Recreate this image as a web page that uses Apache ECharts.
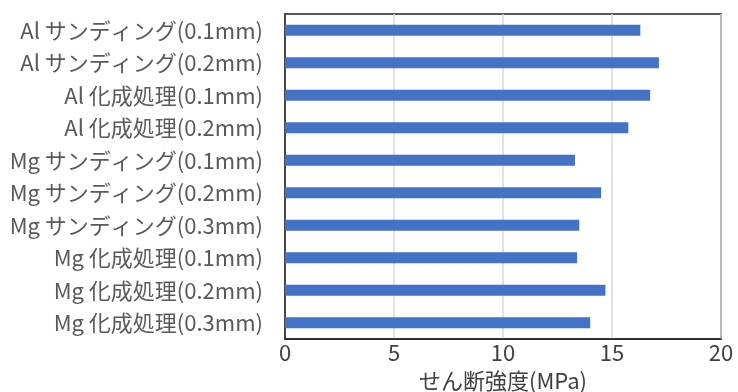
<!DOCTYPE html>
<html>
<head>
<meta charset="utf-8">
<script src="https://cdn.jsdelivr.net/npm/echarts@6/dist/echarts.min.js"></script>
<style>html,body{margin:0;padding:0;background:#fff;}#c{width:738px;height:392px;}</style>
</head>
<body>
<div id="c"></div>
<script>
const categories = [
  'Al サンディング(0.1mm)',
  'Al サンディング(0.2mm)',
  'Al 化成処理(0.1mm)',
  'Al 化成処理(0.2mm)',
  'Mg サンディング(0.1mm)',
  'Mg サンディング(0.2mm)',
  'Mg サンディング(0.3mm)',
  'Mg 化成処理(0.1mm)',
  'Mg 化成処理(0.2mm)',
  'Mg 化成処理(0.3mm)'
];
const strength = [16.3, 17.15, 16.75, 15.75, 13.3, 14.5, 13.5, 13.4, 14.7, 14.0];
const xTicks = { min: 0, max: 20, interval: 5 };
const xName = 'せん断強度(MPa)';

const font = '"Noto Sans CJK JP", "Noto Sans", sans-serif';
const chart = echarts.init(document.getElementById('c'));
chart.setOption({
  animation: false,
  backgroundColor: '#fff',
  grid: { left: 285, right: 17, top: 14, bottom: 53, show: true, borderColor: '#222', borderWidth: 1.5, containLabel: false, outerBoundsMode: 'none' },
  xAxis: {
    type: 'value', min: xTicks.min, max: xTicks.max, interval: xTicks.interval,
    name: xName, nameLocation: 'middle', nameGap: 31,
    nameTextStyle: { color: '#404040', fontSize: 22, fontFamily: font },
    axisLine: { show: true, lineStyle: { color: '#222', width: 1.5 } },
    axisTick: { show: false },
    axisLabel: { color: '#404040', fontSize: 22, fontFamily: font, margin: 3 },
    splitLine: { show: true, lineStyle: { color: '#d9d9d9', width: 1.5 } }
  },
  yAxis: {
    type: 'category', data: categories, inverse: true,
    axisLine: { show: true, lineStyle: { color: '#222', width: 1.5 } },
    axisTick: { show: false },
    axisLabel: { color: '#595959', fontSize: 22, fontFamily: font, margin: 22 }
  },
  series: [{
    type: 'bar', data: strength, barWidth: '34%',
    itemStyle: { color: '#4472C4' }
  }]
});
</script>
</body>
</html>
